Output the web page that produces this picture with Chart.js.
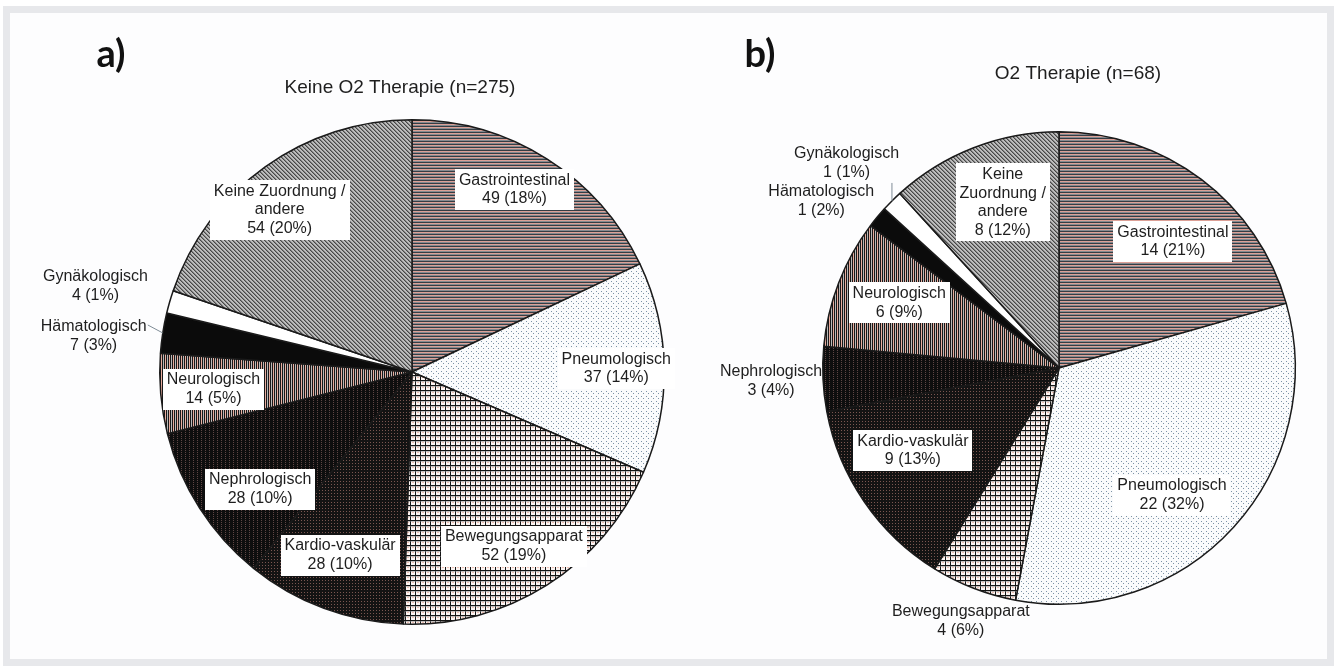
<!DOCTYPE html>
<html>
<head>
<meta charset="utf-8">
<script src="https://cdn.jsdelivr.net/npm/chart.js@4.4.1/dist/chart.umd.min.js"></script>
<style>
    html, body { margin: 0; padding: 0; background: #ffffff; }
    #page { position: relative; width: 1335px; height: 670px; overflow: hidden; }
    #frame { position: absolute; left: 3px; top: 6px; width: 1317px; height: 646px; border: 7px solid #e7e8eb; background: #fdfdfe; }
    canvas { position: absolute; left: 0; top: 0; }
</style>
</head>
<body>
<div id="page">
    <div id="frame"></div>
    <canvas id="chartA" width="1335" height="670"></canvas>
    <canvas id="chartB" width="1335" height="670"></canvas>
</div>
<script>
// categories, clockwise from 12 o'clock
var categoriesA = ['Gastrointestinal', 'Pneumologisch', 'Bewegungsapparat', 'Kardio-vaskulär', 'Nephrologisch', 'Neurologisch', 'Hämatologisch', 'Gynäkologisch', ['Keine Zuordnung /', 'andere']];
var valuesA = [49, 37, 52, 28, 28, 14, 7, 4, 54];
var percentsA = [18, 14, 19, 10, 10, 5, 3, 1, 20];
var titleA = 'Keine O2 Therapie (n=275)';

var categoriesB = ['Gastrointestinal', 'Pneumologisch', 'Bewegungsapparat', 'Kardio-vaskulär', 'Nephrologisch', 'Neurologisch', 'Hämatologisch', 'Gynäkologisch', ['Keine', 'Zuordnung /', 'andere']];
var valuesB = [14, 22, 4, 9, 3, 6, 1, 1, 8];
var percentsB = [21, 32, 6, 13, 4, 9, 2, 1, 12];
var titleB = 'O2 Therapie (n=68)';

// label placement: [radius fraction, angle shift in degrees, boxed]
var labelPosA = [[0.83, -3, true], [0.81, 0, true], [0.80, 2, true], [0.78, 1, true], [0.76, -5, true], [0.79, 0, true], [1.27, -2.5, false], [1.30, -1, false], [0.83, -3.6, true]];
var labelPosB = [[0.72, 5, true], [0.72, 6, true], [1.15, 0, false], [0.71, 5, true], [1.22, 0, false], [0.73, 1, true], [1.23, -4.6, false], [1.25, -1, false], [0.74, 2.4, true]];
var leadersA = [null, null, null, null, null, null, [-15, -8], null, null];
var leadersB = [null, null, null, null, null, null, null, [0, -18], null];

function makePattern(w, h, paint) {
    var tile = document.createElement('canvas');
    tile.width = w;
    tile.height = h;
    var c = tile.getContext('2d');
    paint(c);
    return c.createPattern(tile, 'repeat');
}

function buildFills() {
    var horiz = makePattern(1, 3, function(c) {
        c.fillStyle = '#363d44'; c.fillRect(0, 0, 1, 1);
        c.fillStyle = '#dca096'; c.fillRect(0, 1, 1, 1);
        c.fillStyle = '#858b91'; c.fillRect(0, 2, 1, 1);
    });
    var dots = makePattern(5, 5, function(c) {
        c.fillStyle = '#fafbfc'; c.fillRect(0, 0, 5, 5);
        c.fillStyle = '#7d93a6'; c.fillRect(1, 1, 1, 1); c.fillRect(3, 3, 1, 1);
    });
    var grid = makePattern(5, 5, function(c) {
        c.fillStyle = '#fcf5f3'; c.fillRect(0, 0, 5, 5);
        c.fillStyle = '#f0c0b4'; c.fillRect(2, 2, 2, 1);
        c.fillStyle = '#141414'; c.fillRect(0, 0, 5, 1); c.fillRect(0, 0, 1, 5);
        c.fillStyle = '#8a8a8a'; c.fillRect(0, 1, 5, 0.5);
    });
    var kardio = makePattern(3, 3, function(c) {
        c.fillStyle = '#131313'; c.fillRect(0, 0, 3, 3);
        c.fillStyle = '#7a5650'; c.fillRect(1, 1, 1, 1);
    });
    var nephro = makePattern(4, 4, function(c) {
        c.fillStyle = '#0e0e0e'; c.fillRect(0, 0, 4, 4);
        c.fillStyle = '#5e4644'; c.fillRect(1, 0, 1, 1); c.fillRect(1, 2, 1, 1);
    });
    var vert = makePattern(4, 1, function(c) {
        c.fillStyle = '#181818'; c.fillRect(0, 0, 1, 1);
        c.fillStyle = '#e8ac9e'; c.fillRect(1, 0, 1, 1);
        c.fillStyle = '#181818'; c.fillRect(2, 0, 1, 1);
        c.fillStyle = '#b8b8b8'; c.fillRect(3, 0, 1, 1);
    });
    var diag = makePattern(4, 4, function(c) {
        c.fillStyle = '#bdbdbd'; c.fillRect(0, 0, 4, 4);
        c.fillStyle = '#474747';
        for (var i = 0; i < 4; i++) { c.fillRect(i, i, 1, 1); }
        c.fillStyle = '#828282';
        for (var j = 0; j < 4; j++) { c.fillRect((j + 1) % 4, j, 1, 1); }
    });
    return [horiz, dots, grid, kardio, nephro, vert, '#0b0b0b', '#ffffff', diag];
}

var labelPlugin = {
    id: 'sliceLabels',
    afterDatasetsDraw: function(chart) {
        var cfg = chart.options.plugins.sliceLabels;
        var ctx = chart.ctx;
        var arcs = chart.getDatasetMeta(0).data;
        var values = chart.data.datasets[0].data;
        ctx.save();
        ctx.font = '16px "Liberation Sans", Arial, sans-serif';
        ctx.textAlign = 'center';
        ctx.textBaseline = 'middle';
        for (var i = 0; i < arcs.length; i++) {
            var p = arcs[i].getProps(['x', 'y', 'startAngle', 'endAngle', 'outerRadius'], true);
            var pos = cfg.positions[i];
            var mid = (p.startAngle + p.endAngle) / 2;
            var ang = mid + pos[1] * Math.PI / 180;
            var lx = p.x + Math.cos(ang) * p.outerRadius * pos[0];
            var ly = p.y + Math.sin(ang) * p.outerRadius * pos[0];
            var name = chart.data.labels[i];
            var lines = Array.isArray(name) ? name.slice() : [name];
            lines.push(values[i] + ' (' + cfg.percents[i] + '%)');
            var lh = 18.5;
            var maxW = 0;
            for (var k = 0; k < lines.length; k++) {
                maxW = Math.max(maxW, ctx.measureText(lines[k]).width);
            }
            var top = ly - lines.length * lh / 2;
            if (pos[2]) {
                ctx.fillStyle = '#ffffff';
                ctx.fillRect(Math.round(lx - maxW / 2 - 4), Math.round(top - 2), Math.round(maxW + 8), Math.round(lines.length * lh + 4));
            }
            var lead = cfg.leaders[i];
            if (lead) {
                var ex = p.x + Math.cos(mid) * p.outerRadius;
                var ey = p.y + Math.sin(mid) * p.outerRadius;
                ctx.strokeStyle = '#7f8c96';
                ctx.lineWidth = 1;
                ctx.beginPath();
                ctx.moveTo(ex, ey);
                ctx.lineTo(ex + lead[0], ey + lead[1]);
                ctx.stroke();
            }
            ctx.fillStyle = '#1e1e1e';
            for (var m = 0; m < lines.length; m++) {
                ctx.fillText(lines[m], lx, top + lh / 2 + m * lh);
            }
        }
        // panel title and letter
        ctx.font = '19px "Liberation Sans", Arial, sans-serif';
        ctx.fillStyle = '#1e1e1e';
        ctx.textBaseline = 'alphabetic';
        ctx.fillText(cfg.title, cfg.titleX, cfg.titleY);
        ctx.font = 'bold 38px Lato, "Open Sans", sans-serif';
        ctx.fillStyle = '#111111';
        ctx.fillText(cfg.letter, cfg.letterX, 67);
        ctx.restore();
    }
};

function makePie(canvasId, labels, values, percents, positions, leaders, padding, title, titleX, titleY, letter, letterX) {
    var ctx = document.getElementById(canvasId).getContext('2d');
    return new Chart(ctx, {
        type: 'pie',
        data: {
            labels: labels,
            datasets: [{
                data: values,
                backgroundColor: buildFills(),
                borderColor: '#1a1a1a',
                borderWidth: 1.5,
                hoverOffset: 0
            }]
        },
        options: {
            responsive: false,
            animation: false,
            events: [],
            layout: { padding: padding },
            plugins: {
                legend: { display: false },
                tooltip: { enabled: false },
                sliceLabels: {
                    positions: positions,
                    percents: percents,
                    leaders: leaders,
                    title: title,
                    titleX: titleX,
                    titleY: titleY,
                    letter: letter,
                    letterX: letterX
                }
            }
        },
        plugins: [labelPlugin]
    });
}

window.onload = function() {
    makePie('chartA', categoriesA, valuesA, percentsA, labelPosA, leadersA,
        { left: 159, right: 670, top: 119, bottom: 45 }, titleA, 400, 93, 'a)', 111);
    makePie('chartB', categoriesB, valuesB, percentsB, labelPosB, leadersB,
        { left: 822, right: 39, top: 131, bottom: 65 }, titleB, 1078, 79, 'b)', 760);
};
</script>
</body>
</html>
